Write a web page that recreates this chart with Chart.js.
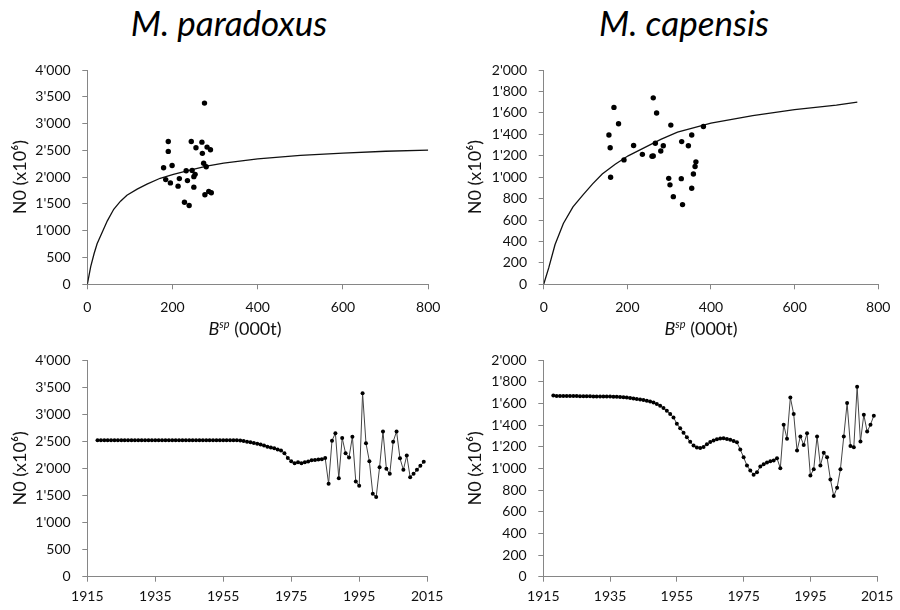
<!DOCTYPE html>
<html>
<head>
<meta charset="utf-8">
<script src="https://cdn.jsdelivr.net/npm/chart.js@4.4.0/dist/chart.umd.min.js"></script>
<style>
  body { margin: 0; background: #fff; width: 900px; height: 610px; position: relative; overflow: hidden; font-family: Lato, 'Open Sans', sans-serif; }
  canvas { position: absolute; }
  .titulo { position: absolute; top: 0; height: 44px; line-height: 44px; font-size: 35px; font-style: italic; text-align: center; color: #000; }
  .xtit { position: absolute; top: 313px; width: 200px; text-align: center; font-size: 18px; line-height: 22px; color: #111; }
  .xtit sup { font-size: 11px; font-style: italic; }
</style>
</head>
<body>
<div class="titulo" style="left:0;width:458px">M. paradoxus</div>
<div class="titulo" style="left:450px;width:468px">M. capensis</div>

<canvas id="srParadoxus" width="450" height="290" style="left:0;top:50px"></canvas>
<canvas id="srCapensis" width="450" height="290" style="left:450px;top:50px"></canvas>
<canvas id="tsParadoxus" width="450" height="270" style="left:0;top:340px"></canvas>
<canvas id="tsCapensis" width="450" height="270" style="left:450px;top:340px"></canvas>

<div class="xtit" style="left:145px"><i>B</i><sup>sp</sup> (000t)</div>
<div class="xtit" style="left:601px"><i>B</i><sup>sp</sup> (000t)</div>

<script>
// Datos

// M. paradoxus: biomasa reproductora (000t) y reclutamiento N0 (x10^6)
const parBsp = [179, 184, 190, 190, 195, 199, 213, 216, 228, 232, 235, 239, 244, 246,
                250, 250, 253, 255, 269, 270, 273, 275, 276, 279, 281, 285, 289, 291];
const parN0 = [2175, 1954, 2665, 2481, 1893, 2218, 1832, 1973, 1532, 2120, 1936, 1470, 2665, 2126,
               2009, 1813, 2052, 2548, 2653, 2444, 2260, 3382, 1672, 2193, 2561, 1734, 2512, 1709];
// curva stock-reclutamiento
const parCurvaB = [0, 8, 16, 23, 35, 47, 62, 78, 93, 117, 140, 171, 202, 241, 280, 320, 400, 500, 600, 700, 800];
const parCurvaN0 = [0, 330, 575, 758, 971, 1185, 1400, 1552, 1662, 1777, 1869, 1979, 2052, 2132, 2206, 2260, 2340, 2405, 2450, 2483, 2505];

// M. capensis
const capBsp = [156, 159, 160, 168, 179, 192, 215, 236, 259, 262, 262, 267, 270, 280, 286,
                299, 302, 304, 310, 329, 330, 332, 346, 354, 354, 358, 362, 364, 382];
const capN0 = [1394, 1274, 999, 1651, 1498, 1161, 1296, 1213, 1195, 1198, 1740, 1317, 1599, 1244, 1293,
               989, 928, 1486, 818, 986, 1332, 744, 1293, 897, 1394, 1029, 1100, 1143, 1473];
const capCurvaB = [0, 12, 27, 47, 70, 93, 117, 140, 171, 202, 241, 280, 320, 400, 500, 600, 700, 750];
const capCurvaN0 = [0, 153, 369, 568, 722, 830, 937, 1029, 1121, 1199, 1275, 1352, 1420, 1505, 1575, 1630, 1672, 1700];

// Series temporales
const anios = [
  1918, 1919, 1920, 1921, 1922, 1923, 1924, 1925, 1926, 1927, 1928, 1929, 1930, 1931, 1932, 1933,
  1934, 1935, 1936, 1937, 1938, 1939, 1940, 1941, 1942, 1943, 1944, 1945, 1946, 1947, 1948, 1949,
  1950, 1951, 1952, 1953, 1954, 1955, 1956, 1957, 1958, 1959, 1960, 1961, 1962, 1963, 1964, 1965,
  1966, 1967, 1968, 1969, 1970, 1971, 1972, 1973, 1974, 1975, 1976, 1977, 1978, 1979, 1980, 1981,
  1982, 1983, 1984, 1985, 1986, 1987, 1988, 1989, 1990, 1991, 1992, 1993, 1994, 1995, 1996, 1997,
  1998, 1999, 2000, 2001, 2002, 2003, 2004, 2005, 2006, 2007, 2008, 2009, 2010, 2011, 2012, 2013,
  2014
];
const parSerie = [
  2520, 2520, 2520, 2520, 2520, 2520, 2520, 2520, 2520, 2520, 2520, 2520, 2520, 2520, 2520, 2520,
  2520, 2520, 2520, 2520, 2520, 2520, 2520, 2520, 2520, 2520, 2520, 2520, 2520, 2520, 2520, 2520,
  2520, 2520, 2520, 2520, 2520, 2520, 2520, 2520, 2520, 2518, 2512, 2503, 2493, 2481, 2469, 2454,
  2438, 2420, 2401, 2386, 2371, 2350, 2328, 2279, 2193, 2132, 2095, 2113, 2095, 2113, 2126, 2150,
  2156, 2162, 2170, 2190, 1716, 2511, 2650, 1819, 2561, 2278, 2199, 2585, 1758, 1679, 3387, 2462,
  2131, 1532, 1470, 2021, 2682, 1991, 1899, 2493, 2682, 2186, 1973, 2236, 1837, 1899, 1973, 2046,
  2120
];
const capSerie = [
  1672, 1668, 1668, 1668, 1668, 1667, 1667, 1667, 1666, 1666, 1665, 1665, 1664, 1664, 1663, 1663,
  1662, 1662, 1661, 1660, 1658, 1656, 1654, 1650, 1645, 1640, 1635, 1630, 1623, 1616, 1608, 1594,
  1577, 1556, 1531, 1502, 1470, 1412, 1370, 1328, 1286, 1245, 1210, 1192, 1188, 1198, 1222, 1243,
  1258, 1269, 1275, 1277, 1272, 1263, 1253, 1240, 1173, 1102, 1026, 980, 941, 965, 1017, 1038,
  1054, 1066, 1072, 1093, 1001, 1403, 1274, 1654, 1501, 1164, 1295, 1216, 1323, 934, 992, 1295,
  1026, 1143, 1102, 898, 744, 821, 992, 1295, 1602, 1207, 1194, 1752, 1247, 1495, 1339, 1403,
  1486
];

const COLOR_EJE = '#868686';
const COLOR_TEXTO = '#111';

Chart.defaults.font.family = "Lato, 'Open Sans', sans-serif";
Chart.defaults.animation = false;

// Formato con apóstrofo para miles (4'000)
function miles(v) {
    if (v >= 1000) {
        return Math.floor(v / 1000) + "'" + String(v % 1000).padStart(3, '0');
    }
    return String(v);
}

function pares(xs, ys) {
    return xs.map((x, i) => ({ x: x, y: ys[i] }));
}

function ejeY(max, paso, ancho, padTitulo) {
    return {
        type: 'linear',
        min: 0,
        max: max,
        ticks: { stepSize: paso, padding: 11.6, color: COLOR_TEXTO, font: { size: 14 }, callback: v => miles(v) },
        grid: { drawOnChartArea: false, drawTicks: true, tickLength: 5, color: COLOR_EJE },
        border: { display: true, color: COLOR_EJE },
        title: { display: true, text: 'N0 (x10⁶)', color: COLOR_TEXTO, font: { size: 18 }, padding: { top: padTitulo, bottom: 0 } },
        afterFit: s => { s.width = ancho; }
    };
}

function ejeX(min, max, paso, alto, padTicks) {
    return {
        type: 'linear',
        min: min,
        max: max,
        ticks: { stepSize: paso, padding: padTicks, color: COLOR_TEXTO, font: { size: 14 }, autoSkip: false, maxRotation: 0,
                 callback: v => String(v) },
        grid: { drawOnChartArea: false, drawTicks: true, tickLength: 5, color: COLOR_EJE },
        border: { display: true, color: COLOR_EJE },
        afterFit: s => { s.height = alto; }
    };
}

function opciones(x, y, padding) {
    return {
        responsive: false,
        devicePixelRatio: 1,
        animation: false,
        layout: { padding: padding },
        plugins: { legend: { display: false }, tooltip: { enabled: false } },
        scales: { x: x, y: y }
    };
}

// Gráfico stock-reclutamiento
function graficoSR(id, bsp, n0, curvaB, curvaN0, yMax, yPaso, anchoY, padTitulo, padDer) {
    new Chart(document.getElementById(id), {
        type: 'scatter',
        data: {
            datasets: [{
                label: 'Observado',
                data: pares(bsp, n0),
                pointRadius: 2.7,
                pointBackgroundColor: '#000',
                pointBorderWidth: 0,
                showLine: false
            }, {
                label: 'Curva',
                data: pares(curvaB, curvaN0),
                showLine: true,
                borderColor: '#111',
                borderWidth: 1.3,
                pointRadius: 0,
                tension: 0
            }]
        },
        options: opciones(ejeX(0, 800, 200, 55.7, 9.6), ejeY(yMax, yPaso, anchoY, padTitulo),
                          { left: 0, top: 16.5, right: padDer, bottom: 0 })
    });
}

// Serie temporal de N0
function graficoSerie(id, serie, yMax, yPaso, anchoY, padTitulo, padDer) {
    new Chart(document.getElementById(id), {
        type: 'scatter',
        data: {
            datasets: [{
                label: 'N0',
                data: pares(anios, serie),
                showLine: true,
                borderColor: '#444',
                borderWidth: 1,
                pointRadius: 2,
                pointBackgroundColor: '#000',
                pointBorderWidth: 0,
                tension: 0
            }]
        },
        options: opciones(ejeX(1915, 2015, 20, 33.3, 6.6), ejeY(yMax, yPaso, anchoY, padTitulo),
                          { left: 0, top: 19, right: padDer, bottom: 0 })
    });
}

graficoSR('srParadoxus', parBsp, parN0, parCurvaB, parCurvaN0, 4000, 500, 87.3, 9.7, 21.7);
graficoSR('srCapensis', capBsp, capN0, capCurvaB, capCurvaN0, 2000, 200, 93.7, 14.7, 17);
graficoSerie('tsParadoxus', parSerie, 4000, 500, 87.3, 9.7, 22.3);
graficoSerie('tsCapensis', capSerie, 2000, 200, 93.3, 14.7, 16.7);
</script>
</body>
</html>
